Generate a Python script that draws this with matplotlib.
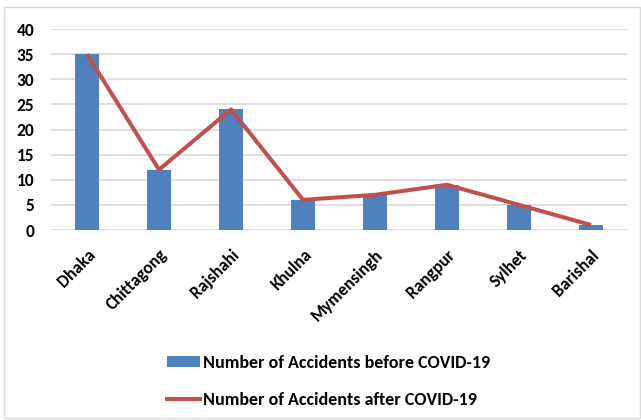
import matplotlib
matplotlib.use("Agg")
import matplotlib.pyplot as plt
from matplotlib.patches import Rectangle, Patch
from matplotlib.lines import Line2D
import numpy as np

divisions = ["Dhaka", "Chittagong", "Rajshahi", "Khulna", "Mymensingh", "Rangpur", "Sylhet", "Barishal"]
before_covid = [35, 12, 24, 6, 7, 9, 5, 1]
after_covid = [35, 12, 24, 6, 7, 9, 5, 1]
y_ticks = [0, 5, 10, 15, 20, 25, 30, 35, 40]

bar_color = "#4F81BD"
line_color = "#C0504D"

plt.rcParams["font.family"] = ["Carlito", "DejaVu Sans"]

fig = plt.figure(figsize=(6.41, 4.2), dpi=100)
ax = fig.add_axes([51 / 641, 1 - 230 / 420, 576 / 641, 201 / 420])

x = np.arange(len(divisions))
ax.bar(x, before_covid, width=0.32, color=bar_color, zorder=2)
ax.plot(x, after_covid, color=line_color, linewidth=2.9, zorder=3, solid_capstyle="butt")

ax.set_xlim(-0.5, len(divisions) - 0.5)
ax.set_ylim(0, 40)
ax.set_yticks(y_ticks)
ax.set_yticklabels([str(v) for v in y_ticks], fontsize=12.5, fontweight="bold")
ax.yaxis.grid(True, color="#D9D9D9", linewidth=1.2, zorder=0)
ax.set_axisbelow(True)
for s in ax.spines.values():
    s.set_visible(False)
ax.tick_params(axis="both", length=0)
ax.tick_params(axis="y", pad=12)

ax.set_xticks(x)
ax.set_xticklabels(divisions, rotation=45, ha="right", va="top", rotation_mode="anchor",
                   fontsize=12.5, fontweight="bold")
ax.tick_params(axis="x", pad=12)

handles = [Patch(facecolor=bar_color, edgecolor="none"),
           Line2D([0], [0], color=line_color, linewidth=2.9)]
labels = ["Number of Accidents before COVID-19", "Number of Accidents after COVID-19"]
fig.legend(handles, labels, loc="upper left", bbox_to_anchor=(167 / 641, 1 - 355 / 420),
           frameon=False, prop={"size": 13, "weight": "bold"}, handlelength=1.85,
           handleheight=0.6, handletextpad=0.15, labelspacing=1.15, borderaxespad=0,
           borderpad=0)

fig.patches.append(Rectangle((4 / 641, 2 / 420), 636 / 641, 411 / 420, transform=fig.transFigure,
                             fill=False, edgecolor="#D9D9D9", linewidth=1.0))

fig.savefig("out.png", dpi=100)
